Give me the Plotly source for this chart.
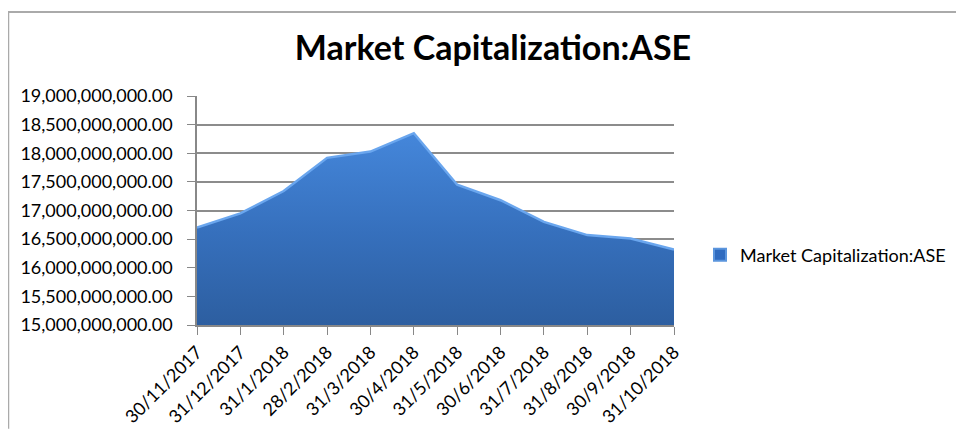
import plotly.graph_objects as go

dates = ["30/11/2017", "31/12/2017", "31/1/2018", "28/2/2018", "31/3/2018", "30/4/2018",
         "31/5/2018", "30/6/2018", "31/7/2018", "31/8/2018", "30/9/2018", "31/10/2018"]
market_cap = [16.70e9, 16.95e9, 17.34e9, 17.92e9, 18.03e9, 18.35e9,
              17.45e9, 17.18e9, 16.80e9, 16.57e9, 16.51e9, 16.32e9]
y_ticks = [15e9 + i * 0.5e9 for i in range(9)]
series_name = "Market Capitalization:ASE"

FONT = "Lato, Carlito, Calibri, sans-serif"

# page has an 8px body margin, so the figure is sized 956x431
W, H = 956, 431
L, R, T, B = 189, 290, 88, 107
PW, PH = W - L - R, H - T - B

fig = go.Figure()
fig.add_trace(go.Scatter(
    x=list(range(len(dates))), y=market_cap,
    mode="lines", line=dict(color="#6aa6ee", width=2.5, shape="linear"),
    fill="tozeroy",
    fillgradient=dict(type="vertical", start=15e9, stop=18.4e9,
                      colorscale=[[0, "#2c5d9e"], [0.5, "#3670bd"], [1, "#4587db"]]),
    showlegend=False, hoverinfo="y",
))
# legend entry
fig.add_trace(go.Scatter(
    x=[None], y=[None], mode="markers", name=series_name,
    marker=dict(symbol="square", size=11, color="#2f6bbf",
                line=dict(color="#5b95dd", width=1)),
))

fig.update_layout(
    width=W, height=H,
    margin=dict(l=L, r=R, t=T, b=B),
    paper_bgcolor="white", plot_bgcolor="white",
    font=dict(family=FONT, size=18, color="black"),
    title=dict(text="<b>Market Capitalization:ASE</b>", x=485 / W, xanchor="center",
               y=1 - 40 / H, yanchor="middle", font=dict(size=34, family=FONT, color="black")),
    legend=dict(x=(692 - L) / PW, y=(H - B - 252) / PH, xanchor="left", yanchor="middle",
                font=dict(size=18, family=FONT), bgcolor="rgba(0,0,0,0)",
                itemsizing="constant"),
    xaxis=dict(
        range=[0, len(dates) - 1],
        tickmode="array", tickvals=list(range(len(dates))), ticktext=dates,
        tickangle=-45, ticks="outside", ticklen=8, tickcolor="#888888",
        showline=True, linecolor="#888888", linewidth=1.5,
        showgrid=False, zeroline=False, tickfont=dict(size=18),
    ),
    yaxis=dict(
        range=[15e9, 19e9],
        tickmode="array", tickvals=y_ticks,
        ticktext=[f"{v:,.2f}" for v in y_ticks],
        ticks="outside", ticklen=8, tickcolor="#888888",
        ticklabelstandoff=11,
        showline=True, linecolor="#888888", linewidth=1.5,
        showgrid=True, gridcolor="#8c8c8c", gridwidth=1.5,
        zeroline=False, tickfont=dict(size=18),
    ),
    shapes=[
        dict(type="line", xref="paper", yref="paper",
             x0=(0 - L) / PW, x1=(0 - L) / PW, y0=-B / PH, y1=(H - B - 1.5) / PH,
             line=dict(color="#aaaaaa", width=2.5)),
        dict(type="line", xref="paper", yref="paper",
             x0=(0 - L) / PW, x1=(W - L) / PW, y0=(H - B - 1.5) / PH, y1=(H - B - 1.5) / PH,
             line=dict(color="#aaaaaa", width=2)),
    ],
)

fig.write_html("out.html")
